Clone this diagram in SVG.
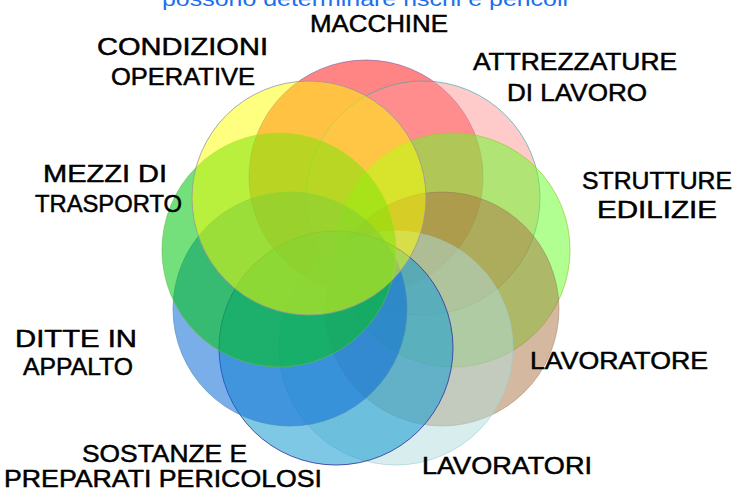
<svg xmlns="http://www.w3.org/2000/svg" width="737" height="491" viewBox="0 0 737 491">
<style>
  .c { stroke-width: 1; }
  .lbl { font-family: "Liberation Sans", "DejaVu Sans", sans-serif; font-size: 24px; fill: #000; stroke: #000; stroke-width: 0.5; }
  .top { font-family: "Liberation Sans", "DejaVu Sans", sans-serif; font-size: 21px; fill: #1a6ff0; }
</style>
<rect width="737" height="491" fill="#ffffff"/>
<text class="top" x="162" y="6" textLength="406" lengthAdjust="spacingAndGlyphs">possono determinare rischi e pericoli</text>
<g id="circles">
  <g id="macchine"><circle class="c" cx="366" cy="177" r="117" fill="#ff0b0b" fill-opacity="0.5" stroke="#7a5aa0" stroke-opacity="0.6"/></g>
  <g id="attrezzature"><circle class="c" cx="423" cy="198" r="117" fill="#ff9595" fill-opacity="0.5" stroke="#4aa8a8" stroke-opacity="0.7"/></g>
  <g id="strutture"><circle class="c" cx="453" cy="250" r="117" fill="#61ff21" fill-opacity="0.5" stroke="#99cc33" stroke-opacity="0.7"/></g>
  <g id="lavoratore"><circle class="c" cx="442" cy="309" r="117" fill="#a97141" fill-opacity="0.5" stroke="#8a6a50" stroke-opacity="0.4"/></g>
  <g id="lavoratori"><circle class="c" cx="396" cy="348" r="117" fill="#b1dddd" fill-opacity="0.5" stroke="#a0cccc" stroke-opacity="0.6"/></g>
  <g id="sostanze"><circle class="c" cx="336" cy="348" r="117" fill="#149bd2" fill-opacity="0.55" stroke="#3a3fa0" stroke-opacity="0.9"/></g>
  <g id="ditte"><circle class="c" cx="290" cy="309" r="117" fill="#0d6cd5" fill-opacity="0.55" stroke="#4a8ab8" stroke-opacity="0.6"/></g>
  <g id="mezzi"><circle class="c" cx="279" cy="250" r="117" fill="#00c610" fill-opacity="0.55" stroke="#66bb44" stroke-opacity="0.6"/></g>
  <g id="condizioni"><circle class="c" cx="309" cy="198" r="117" fill="#ffff00" fill-opacity="0.5" stroke="#999999" stroke-opacity="0.8"/></g>
</g>
<g id="labels">
  <text class="lbl" x="310" y="32" textLength="138" lengthAdjust="spacingAndGlyphs">MACCHINE</text>
  <text class="lbl" x="97" y="55" textLength="171" lengthAdjust="spacingAndGlyphs">CONDIZIONI</text>
  <text class="lbl" x="111" y="85" textLength="144" lengthAdjust="spacingAndGlyphs">OPERATIVE</text>
  <text class="lbl" x="473" y="70" textLength="204" lengthAdjust="spacingAndGlyphs">ATTREZZATURE</text>
  <text class="lbl" x="507" y="101" textLength="140" lengthAdjust="spacingAndGlyphs">DI LAVORO</text>
  <text class="lbl" x="43" y="182" textLength="124" lengthAdjust="spacingAndGlyphs">MEZZI DI</text>
  <text class="lbl" x="35" y="212" textLength="147" lengthAdjust="spacingAndGlyphs">TRASPORTO</text>
  <text class="lbl" x="582" y="189" textLength="150" lengthAdjust="spacingAndGlyphs">STRUTTURE</text>
  <text class="lbl" x="597" y="218" textLength="120" lengthAdjust="spacingAndGlyphs">EDILIZIE</text>
  <text class="lbl" x="15" y="347" textLength="122" lengthAdjust="spacingAndGlyphs">DITTE IN</text>
  <text class="lbl" x="23" y="375" textLength="110" lengthAdjust="spacingAndGlyphs">APPALTO</text>
  <text class="lbl" x="530" y="369" textLength="178" lengthAdjust="spacingAndGlyphs">LAVORATORE</text>
  <text class="lbl" x="82" y="462" textLength="165" lengthAdjust="spacingAndGlyphs">SOSTANZE E</text>
  <text class="lbl" x="4" y="487" textLength="318" lengthAdjust="spacingAndGlyphs">PREPARATI PERICOLOSI</text>
  <text class="lbl" x="422" y="474" textLength="170" lengthAdjust="spacingAndGlyphs">LAVORATORI</text>
</g>
</svg>
